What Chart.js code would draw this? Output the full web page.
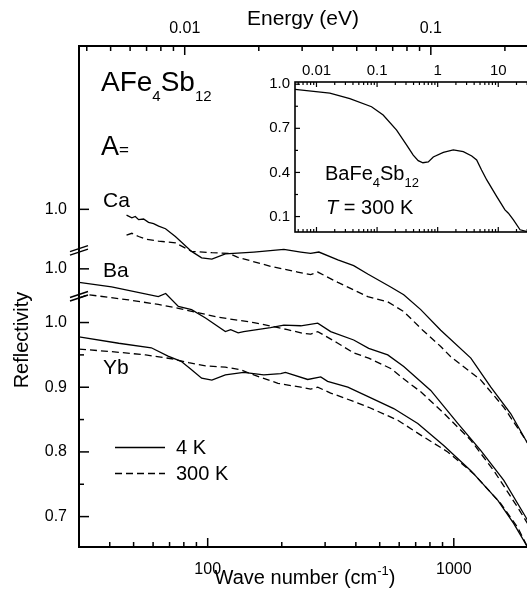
<!DOCTYPE html>
<html>
<head>
<meta charset="utf-8">
<script src="https://cdn.jsdelivr.net/npm/chart.js@4"></script>
<style>
html, body { margin: 0; padding: 0; background: #fff; overflow: hidden; }
#wrap { position: relative; width: 527px; height: 599px; overflow: hidden; }
#main { position: absolute; left: 0; top: 0; }
#inset { position: absolute; left: 255px; top: 40px; }
</style>
</head>
<body>
<div id="wrap">
  <canvas id="main" width="530" height="599"></canvas>
  <canvas id="inset" width="275" height="200"></canvas>
</div>
<script>
// wave numbers (cm-1) and reflectivity
const caWave4 = [46.8, 49.2, 50.8, 52.4, 54.9, 57.5, 60.3, 63.2, 67.4, 73.9, 86, 94.5, 104, 118, 154, 204, 239, 262, 283, 338, 392, 447, 554, 626, 734, 885, 1173, 1414, 1705, 1962, 2040]
const caR4 = [0.991, 0.987, 0.989, 0.984, 0.985, 0.980, 0.978, 0.974, 0.970, 0.958, 0.935, 0.925, 0.923, 0.931, 0.934, 0.938, 0.934, 0.932, 0.934, 0.922, 0.913, 0.900, 0.880, 0.868, 0.845, 0.813, 0.770, 0.725, 0.684, 0.643, 0.632]
const caWave300 = [46.8, 49.2, 52.4, 56, 63, 74, 86, 104, 122, 132, 180, 232, 262, 280, 338, 447, 539, 626, 748, 885, 972, 1288, 1597, 1925, 2040]
const caR300 = [0.960, 0.963, 0.958, 0.954, 0.951, 0.948, 0.935, 0.933, 0.932, 0.926, 0.912, 0.903, 0.899, 0.903, 0.887, 0.865, 0.857, 0.842, 0.813, 0.788, 0.772, 0.736, 0.694, 0.648, 0.633]

const baWave4 = [30, 40.7, 63, 67.5, 76, 86, 98, 118, 124, 133, 140, 180, 204, 239, 280, 316, 392, 451, 539, 626, 806, 1038, 1288, 1597, 1962, 2040]
const baR4 = [0.979, 0.972, 0.957, 0.962, 0.942, 0.937, 0.924, 0.903, 0.906, 0.901, 0.903, 0.909, 0.913, 0.912, 0.916, 0.903, 0.890, 0.877, 0.867, 0.849, 0.812, 0.761, 0.719, 0.673, 0.616, 0.604]
const baWave300 = [30, 32.8, 47.7, 63, 76, 92, 111, 154, 211, 246, 262, 280, 338, 392, 451, 554, 650, 734, 910, 1173, 1454, 1820, 2040]
const baR300 = [0.955, 0.960, 0.952, 0.945, 0.939, 0.932, 0.925, 0.917, 0.906, 0.900, 0.899, 0.903, 0.885, 0.870, 0.862, 0.846, 0.825, 0.810, 0.777, 0.735, 0.688, 0.631, 0.600]

const ybWave4 = [30, 43.5, 59, 69, 78, 86, 94.5, 104, 118, 140, 169, 198, 207, 255, 288, 307, 371, 451, 570, 714, 910, 1173, 1510, 1753, 2000, 2040]
const ybR4 = [0.978, 0.968, 0.961, 0.948, 0.940, 0.927, 0.914, 0.911, 0.919, 0.923, 0.919, 0.921, 0.923, 0.912, 0.916, 0.909, 0.900, 0.885, 0.867, 0.844, 0.810, 0.771, 0.725, 0.689, 0.652, 0.645]
const ybWave300 = [30, 40.7, 56, 71.4, 83.7, 98, 118, 136, 154, 193, 239, 262, 280, 316, 392, 451, 592, 734, 945, 1206, 1553, 1820, 2040]
const ybR300 = [0.959, 0.955, 0.950, 0.944, 0.938, 0.933, 0.931, 0.927, 0.919, 0.906, 0.900, 0.897, 0.900, 0.891, 0.878, 0.869, 0.849, 0.826, 0.800, 0.766, 0.720, 0.683, 0.645]

// vertical offsets of the stacked curves
const offBa = 0.083
const offCa = 0.175

// inset: BaFe4Sb12 at 300 K, energy (eV)
const insetEnergy = [0.00442, 0.0166, 0.0355, 0.081, 0.126, 0.21, 0.308, 0.395, 0.477, 0.571, 0.70, 0.846, 1.24, 1.81, 2.65, 3.65, 4.4, 5.3, 6.46, 9.45, 12.9, 14.7, 17.8, 22.9, 30]
const insetR = [0.965, 0.940, 0.902, 0.847, 0.790, 0.688, 0.586, 0.518, 0.480, 0.466, 0.471, 0.505, 0.537, 0.553, 0.541, 0.512, 0.485, 0.417, 0.349, 0.236, 0.145, 0.123, 0.077, 0.010, -0.002]

const yTickVals = [0.7, 0.8, 0.9, 1.0, 1.0 + offBa, 1.0 + offCa]
const yMinorVals = [0.75, 0.85, 0.95]
const breakVals = [1.041, 1.112]
const insetYTicks = [0.1, 0.4, 0.7, 1.0]
const insetYMinor = [0.25, 0.55, 0.85]

const FONT = "'Liberation Sans', Arial, Helvetica, sans-serif"
const EV = 8065.54
const INSET_LEFT = 255
const INSET_TOP = 40

function pts(xs, ys, off) {
  return xs.map((x, i) => ({ x: x, y: ys[i] + off }))
}

function curve(xs, ys, off, dashed) {
  return {
    data: pts(xs, ys, off),
    showLine: true,
    borderColor: '#000',
    borderWidth: 1.3,
    borderDash: dashed ? [7, 4] : [],
    pointRadius: 0,
    fill: false
  }
}

function logTicks(lo, hi) {
  const out = []
  for (let e = -4; e <= 4; e++) {
    for (let m = 1; m <= 9; m++) {
      const v = m * Math.pow(10, e)
      if (v >= lo && v <= hi) out.push({ v: v, major: m == 1 })
    }
  }
  return out
}

function runs(ctx, x, y, parts) {
  parts.forEach(p => {
    ctx.font = (p.style || '') + ' ' + p.size + 'px ' + FONT
    ctx.fillText(p.t, x, y + (p.dy || 0))
    x += ctx.measureText(p.t).width
  })
  return x
}

function line(ctx, x1, y1, x2, y2) {
  ctx.beginPath()
  ctx.moveTo(x1, y1)
  ctx.lineTo(x2, y2)
  ctx.stroke()
}

const mainDecor = {
  id: 'mainDecor',
  afterDraw(chart) {
    const ctx = chart.ctx
    const a = chart.chartArea
    const sx = chart.scales.x, s2 = chart.scales.x2, sy = chart.scales.y
    ctx.save()
    ctx.strokeStyle = '#000'
    ctx.fillStyle = '#000'
    ctx.lineWidth = 1.5
    // bottom ticks, inward
    logTicks(sx.min, sx.max).forEach(t => {
      const x = sx.getPixelForValue(t.v)
      line(ctx, x, a.bottom, x, a.bottom - (t.major ? 9 : 5))
    })
    // top ticks (energy), inward
    logTicks(s2.min, s2.max).forEach(t => {
      const x = s2.getPixelForValue(t.v)
      line(ctx, x, a.top, x, a.top + (t.major ? 9 : 5))
    })
    // left ticks
    yTickVals.forEach(v => {
      const y = sy.getPixelForValue(v)
      line(ctx, a.left, y, a.left + 10, y)
    })
    yMinorVals.forEach(v => {
      const y = sy.getPixelForValue(v)
      line(ctx, a.left, y, a.left + 5, y)
    })
    // frame
    ctx.lineWidth = 2
    ctx.strokeRect(a.left, a.top, a.right - a.left, a.bottom - a.top)
    // axis breaks
    ctx.lineWidth = 1.4
    breakVals.forEach(v => {
      const y = sy.getPixelForValue(v)
      line(ctx, a.left - 9, y + 1.5, a.left + 9, y - 4.5)
      line(ctx, a.left - 9, y + 5, a.left + 9, y - 1)
    })

    // legend
    ctx.lineWidth = 1.3
    line(ctx, 115, 447.5, 165, 447.5)
    ctx.setLineDash([7, 4])
    line(ctx, 115, 473.5, 165, 473.5)
    ctx.setLineDash([])

    ctx.textAlign = 'left'
    ctx.textBaseline = 'alphabetic'
    runs(ctx, 176, 454, [{ t: '4 K', size: 20 }])
    runs(ctx, 176, 480, [{ t: '300 K', size: 20 }])

    runs(ctx, 101, 91, [
      { t: 'AFe', size: 28 }, { t: '4', size: 15, dy: 10 },
      { t: 'Sb', size: 28 }, { t: '12', size: 15, dy: 10 }
    ])
    runs(ctx, 101, 155, [{ t: 'A', size: 27 }, { t: '=', size: 17 }])
    runs(ctx, 103, 207, [{ t: 'Ca', size: 21 }])
    runs(ctx, 103, 277, [{ t: 'Ba', size: 21 }])
    runs(ctx, 103, 374, [{ t: 'Yb', size: 21 }])

    // axis titles
    ctx.font = '21px ' + FONT
    ctx.textAlign = 'center'
    ctx.fillText('Energy (eV)', 303, 25)

    ctx.textAlign = 'left'
    ctx.font = '20px ' + FONT
    const w1 = ctx.measureText('Wave number (cm').width
    ctx.font = '13px ' + FONT
    const w2 = ctx.measureText('-1').width
    ctx.font = '20px ' + FONT
    const w3 = ctx.measureText(')').width
    runs(ctx, 305 - (w1 + w2 + w3) / 2, 584, [
      { t: 'Wave number (cm', size: 20 }, { t: '-1', size: 13, dy: -9 }, { t: ')', size: 20 }
    ])

    ctx.translate(22, 340)
    ctx.rotate(-Math.PI / 2)
    ctx.textAlign = 'center'
    ctx.textBaseline = 'middle'
    ctx.font = '20px ' + FONT
    ctx.fillText('Reflectivity', 0, 0)
    ctx.restore()
  }
}

const tickFont = { family: FONT, size: 16 }
const noGrid = { display: false, drawTicks: false, tickLength: 0 }

new Chart(document.getElementById('main'), {
  type: 'scatter',
  data: {
    datasets: [
      curve(caWave4, caR4, offCa, false),
      curve(caWave300, caR300, offCa, true),
      curve(baWave4, baR4, offBa, false),
      curve(baWave300, baR300, offBa, true),
      curve(ybWave4, ybR4, 0, false),
      curve(ybWave300, ybR300, 0, true)
    ]
  },
  options: {
    responsive: false,
    animation: false,
    layout: { padding: 0 },
    plugins: { legend: { display: false }, tooltip: { enabled: false } },
    scales: {
      x: {
        type: 'logarithmic', position: 'bottom', min: 30, max: 2040,
        grid: noGrid, border: { display: false },
        afterBuildTicks: s => { s.ticks = [100, 1000].map(v => ({ value: v })) },
        ticks: { autoSkip: false, maxRotation: 0, padding: 13, color: '#000', font: tickFont, callback: v => String(v) },
        afterFit: s => { s.height = 52; s.paddingLeft = 0; s.paddingRight = 0 }
      },
      x2: {
        type: 'logarithmic', position: 'top', min: 30 / EV, max: 2040 / EV,
        grid: noGrid, border: { display: false },
        afterBuildTicks: s => { s.ticks = [0.01, 0.1].map(v => ({ value: v })) },
        ticks: { autoSkip: false, maxRotation: 0, padding: 8, color: '#000', font: tickFont, callback: v => String(v) },
        afterFit: s => { s.height = 46; s.paddingLeft = 0; s.paddingRight = 0 }
      },
      y: {
        type: 'linear', min: 0.653, max: 1.4275,
        grid: noGrid, border: { display: false },
        afterBuildTicks: s => { s.ticks = yTickVals.map(v => ({ value: v })) },
        ticks: { autoSkip: false, padding: 12, color: '#000', font: tickFont, callback: v => (v > 1.001 ? '1.0' : v.toFixed(1)) },
        afterFit: s => { s.width = 79; s.paddingTop = 0; s.paddingBottom = 0 }
      }
    }
  },
  plugins: [mainDecor]
})

const insetDecor = {
  id: 'insetDecor',
  beforeDatasetsDraw(chart) {
    const a = chart.chartArea
    chart.ctx.save()
    chart.ctx.fillStyle = '#fff'
    chart.ctx.fillRect(a.left, a.top, a.right - a.left, a.bottom - a.top)
    chart.ctx.restore()
  },
  afterDraw(chart) {
    const ctx = chart.ctx
    const a = chart.chartArea
    const sx = chart.scales.x, sy = chart.scales.y
    ctx.save()
    ctx.strokeStyle = '#000'
    ctx.fillStyle = '#000'
    ctx.lineWidth = 1.2
    logTicks(sx.min, sx.max).forEach(t => {
      const x = sx.getPixelForValue(t.v)
      const len = t.major ? 5 : 3
      line(ctx, x, a.top, x, a.top + len)
      line(ctx, x, a.bottom, x, a.bottom - len)
    })
    insetYTicks.forEach(v => {
      const y = sy.getPixelForValue(v)
      line(ctx, a.left, y, a.left + 5, y)
    })
    insetYMinor.forEach(v => {
      const y = sy.getPixelForValue(v)
      line(ctx, a.left, y, a.left + 3, y)
    })
    ctx.lineWidth = 1.6
    ctx.strokeRect(a.left, a.top, a.right - a.left, a.bottom - a.top)

    ctx.textAlign = 'left'
    ctx.textBaseline = 'alphabetic'
    runs(ctx, 325 - INSET_LEFT, 180 - INSET_TOP, [
      { t: 'BaFe', size: 20 }, { t: '4', size: 13, dy: 7 },
      { t: 'Sb', size: 20 }, { t: '12', size: 13, dy: 7 }
    ])
    runs(ctx, 326 - INSET_LEFT, 214 - INSET_TOP, [
      { t: 'T', size: 20, style: 'italic' }, { t: ' = 300 K', size: 20 }
    ])
    ctx.restore()
  }
}

const insetFont = { family: FONT, size: 15 }

new Chart(document.getElementById('inset'), {
  type: 'scatter',
  data: { datasets: [curve(insetEnergy, insetR, 0, false)] },
  options: {
    responsive: false,
    animation: false,
    layout: { padding: { bottom: 8, left: 0, right: 0, top: 0 } },
    plugins: { legend: { display: false }, tooltip: { enabled: false } },
    scales: {
      x: {
        type: 'logarithmic', position: 'top', min: 0.00442, max: 33.4,
        grid: noGrid, border: { display: false },
        afterBuildTicks: s => { s.ticks = [0.01, 0.1, 1, 10].map(v => ({ value: v })) },
        ticks: { autoSkip: false, maxRotation: 0, padding: 2, color: '#000', font: insetFont, callback: v => String(v) },
        afterFit: s => { s.height = 42; s.paddingLeft = 0; s.paddingRight = 0 }
      },
      y: {
        type: 'linear', min: -0.005, max: 1.015,
        grid: noGrid, border: { display: false },
        afterBuildTicks: s => { s.ticks = insetYTicks.map(v => ({ value: v })) },
        ticks: { autoSkip: false, padding: 5, color: '#000', font: insetFont, callback: v => v.toFixed(1) },
        afterFit: s => { s.width = 40; s.paddingTop = 0; s.paddingBottom = 0 }
      }
    }
  },
  plugins: [insetDecor]
})
</script>
</body>
</html>
